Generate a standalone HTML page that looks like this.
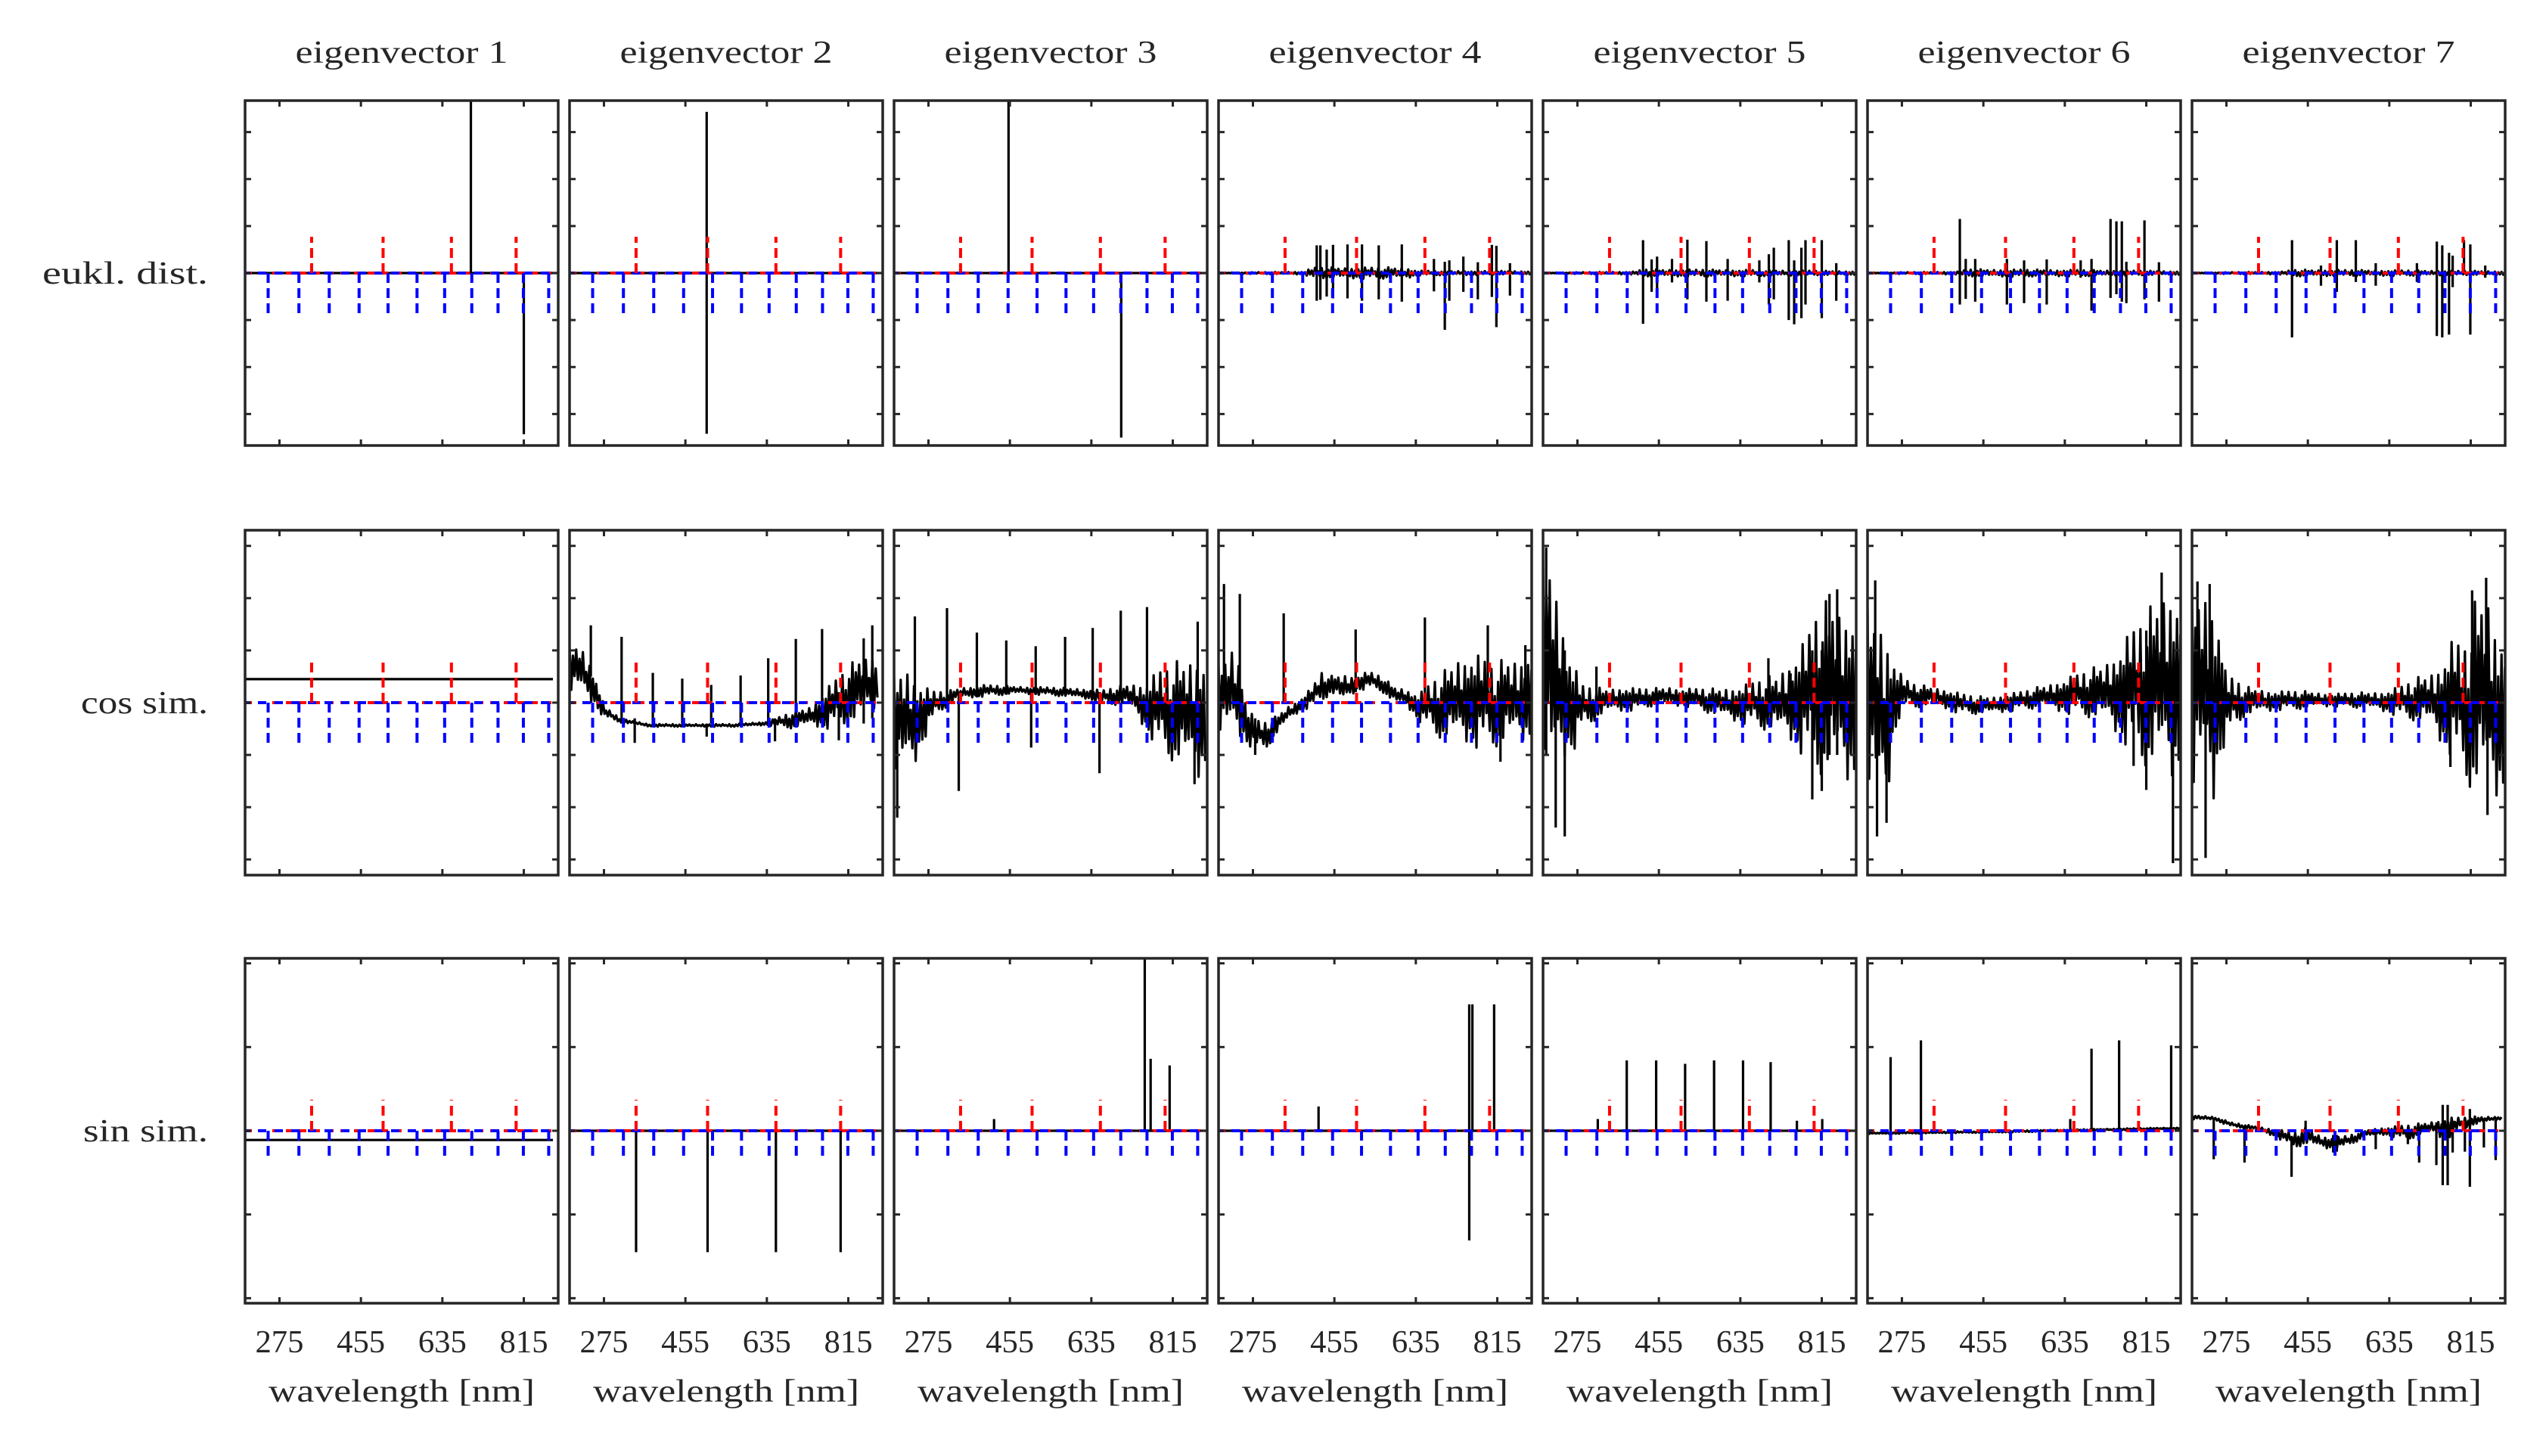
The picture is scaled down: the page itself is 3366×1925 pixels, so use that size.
<!DOCTYPE html>
<html><head><meta charset="utf-8"><title>eigenvector similarity panels</title>
<style>html,body{margin:0;padding:0;background:#fff;}svg{display:block;}text{font-family:"Liberation Serif",serif;fill:#262626;}</style>
</head><body>
<svg id="fig" xmlns="http://www.w3.org/2000/svg" width="3366" height="1925" viewBox="0 0 3366 1925"></svg>
<script>
// ---------- shared data ----------
const titles = ["eigenvector 1","eigenvector 2","eigenvector 3","eigenvector 4","eigenvector 5","eigenvector 6","eigenvector 7"];
const rowLabels = ["eukl. dist.","cos sim.","sin sim."];
const xTickValues = [275,455,635,815];
const xTickLabels = ["275","455","635","815"];
const yTicksRow1 = [-3,-2,-1,0,1,2,3];
const yTicksRow2 = [-3,-2,-1,0,1,2,3];
const yTicksRow3 = [-2,-1,0,1,2];
const redMarkerWl = [346,504,655,798];
const blueMarkerWl = [250,318,385,451,515,579,640,700,758,814,870];
const redMarkerLen = [0.77,0.8,0.37];
const blueMarkerLen = [0.87,0.8,0.35];
const xDomain = [199,891];
const yHalfRange = [3.67,3.3,2.06];

// ---------- row 1 : eukl. dist. ----------
const r1p1EnvWl=[199,891], r1p1EnvHi=[0,0], r1p1EnvLo=[0,0];
const r1p1SpkWl=[698,815], r1p1SpkTop=[3.67,0], r1p1SpkBot=[0,-3.43];
const r1p2EnvWl=[199,891], r1p2EnvHi=[0,0], r1p2EnvLo=[0,0];
const r1p2SpkWl=[502], r1p2SpkTop=[3.43], r1p2SpkBot=[-3.42];
const r1p3EnvWl=[199,891], r1p3EnvHi=[0,0], r1p3EnvLo=[0,0];
const r1p3SpkWl=[452,701], r1p3SpkTop=[3.67,0], r1p3SpkBot=[0,-3.5];
const r1p4EnvWl=[199,300,390,405,615,640,891], r1p4EnvHi=[0.01,0.02,0.03,0.12,0.12,0.05,0.04], r1p4EnvLo=[-0.01,-0.02,-0.03,-0.12,-0.12,-0.05,-0.03];
const r1p4SpkWl=[416,424,438,452,484,516,553,604,675,699,709,740,772,803,813,843];
const r1p4SpkTop=[0.59,0.59,0.5,0.6,0.61,0.61,0.59,0.61,0.3,0.24,0.27,0.35,0.23,0.6,0.58,0.21];
const r1p4SpkBot=[-0.59,-0.57,-0.5,-0.54,-0.54,-0.59,-0.56,-0.61,-0.39,-1.21,-0.59,-0.4,-0.56,-0.51,-1.15,-0.48];
const r1p5EnvWl=[199,300,400,420,620,891], r1p5EnvHi=[0.01,0.02,0.03,0.08,0.07,0.04], r1p5EnvLo=[-0.01,-0.02,-0.03,-0.08,-0.07,-0.04];
const r1p5SpkWl=[420,439,451,484,518,560,607,677,698,709,742,754,770,779,815,847];
const r1p5SpkTop=[0.7,0.29,0.35,0.3,0.71,0.68,0.3,0.27,0.4,0.54,0.7,0.27,0.54,0.7,0.7,0.21];
const r1p5SpkBot=[-1.08,-0.4,-0.4,-0.2,-0.56,-0.61,-0.59,-0.2,-0.67,-0.56,-1.0,-1.09,-0.96,-0.67,-0.96,-0.59];
const r1p6EnvWl=[199,300,400,420,620,891], r1p6EnvHi=[0.01,0.02,0.03,0.08,0.07,0.04], r1p6EnvLo=[-0.01,-0.02,-0.03,-0.08,-0.07,-0.04];
const r1p6SpkWl=[403,416,437,507,545,595,670,694,736,749,761,771,811,843];
const r1p6SpkTop=[1.15,0.3,0.3,0.3,0.27,0.29,0.27,0.3,1.15,1.1,1.1,0.24,1.12,0.23];
const r1p6SpkBot=[-0.67,-0.55,-0.61,-0.67,-0.64,-0.67,-0.1,-0.8,-0.53,-0.45,-0.61,-0.64,-0.56,-0.61];
const r1p7EnvWl=[199,300,400,420,620,891], r1p7EnvHi=[0.01,0.02,0.03,0.07,0.06,0.04], r1p7EnvLo=[-0.01,-0.02,-0.03,-0.07,-0.06,-0.04];
const r1p7SpkWl=[420,484,519,561,605,696,740,752,767,775,800,814,847];
const r1p7SpkTop=[0.7,0.16,0.7,0.7,0.21,0.21,0.67,0.59,0.43,0.37,0.7,0.61,0.16];
const r1p7SpkBot=[-1.37,-0.27,-0.4,-0.19,-0.27,-0.19,-1.34,-1.37,-1.31,-0.3,0,-1.31,-0.1];

// ---------- row 2 : cos sim. ----------
const r2p1EnvWl=[199,880], r2p1EnvHi=[0.45,0.45], r2p1EnvLo=[0.45,0.45];
const r2p1SpkWl=[], r2p1SpkTop=[], r2p1SpkBot=[];
const r2p2EnvWl=[199,220,248,276,313,377,452,563,636,692,729,766,803,840,882];
const r2p2EnvHi=[1.04,1.18,0.75,-0.07,-0.31,-0.41,-0.41,-0.41,-0.36,-0.17,-0.07,0.27,0.6,0.9,1.0];
const r2p2EnvLo=[0.12,0.17,-0.02,-0.29,-0.38,-0.46,-0.46,-0.46,-0.43,-0.5,-0.46,-0.5,-0.46,-0.41,-0.07];
const r2p2SpkWl=[246,314,343,383,448,502,512,577,638,653,699,757,794,849,868];
const r2p2SpkTop=[1.48,1.26,-0.3,0.57,0.46,-0.4,0.34,0.52,0.85,-0.3,1.22,1.41,0.2,1.23,1.48];
const r2p2SpkBot=[0.5,-0.35,-0.77,-0.4,-0.4,-0.65,-0.4,-0.4,-0.4,-0.74,-0.3,-0.3,-0.72,-0.4,-0.3];
const r2p3EnvWl=[199,220,243,266,289,317,345,400,475,549,622,660,715,752,789,826,872,888];
const r2p3EnvHi=[0.5,0.8,0.6,0.31,0.22,0.22,0.29,0.34,0.31,0.29,0.27,0.24,0.36,0.41,0.65,0.8,1.0,0.9];
const r2p3EnvLo=[-1.52,-1.47,-1.28,-0.7,-0.27,-0.07,0.07,0.12,0.17,0.14,0.07,-0.02,-0.07,-0.5,-0.94,-1.23,-1.52,-1.3];
const r2p3SpkWl=[245,316,382,447,512,577,638,700,758,870,206,342,502,653,863];
const r2p3SpkTop=[1.65,1.81,1.34,1.19,1.08,1.26,1.43,1.76,1.83,1.55,0,0.2,0.2,0.2,0];
const r2p3SpkBot=[0,0.1,0.1,0.15,0.15,0.15,0.1,0.05,-0.2,-0.5,-2.2,-1.69,-0.86,-1.35,-1.56];
const r2p4EnvWl=[199,227,247,261,282,303,324,351,379,407,427,448,476,503,531,559,587,614,642,670,697,725,753,780,808,836,863,891];
const r2p4EnvHi=[0.7,1.13,0.9,-0.07,-0.32,-0.36,-0.27,-0.07,0.07,0.31,0.6,0.51,0.56,0.51,0.6,0.51,0.31,0.27,0.17,0.41,0.6,0.9,1.0,0.9,0.7,0.9,0.9,1.09];
const r2p4EnvLo=[-0.7,-0.65,-0.7,-0.8,-0.9,-0.9,-0.65,-0.36,-0.17,-0.07,0.02,0.17,-0.02,0.22,0.27,0.22,-0.02,-0.07,-0.36,-0.56,-0.75,-0.85,-0.8,-0.9,-0.85,-0.9,-0.8,-0.75];
const r2p4SpkWl=[211,246,343,502,655,794,877,280,822];
const r2p4SpkTop=[2.27,2.08,1.71,1.4,1.63,1.48,1.1,-0.3,0];
const r2p4SpkBot=[0,0,0,0.2,0,0,0,-1.0,-1.13];
const r2p5EnvWl=[199,213,227,241,254,268,282,303,337,372,407,441,476,510,545,580,614,649,683,718,753,780,808,836,863,891];
const r2p5EnvHi=[2.97,2.97,2.34,1.76,1.13,0.75,0.36,0.31,0.27,0.31,0.27,0.27,0.31,0.27,0.27,0.27,0.31,0.36,0.46,0.56,0.94,1.23,1.86,2.0,1.91,1.86];
const r2p5EnvLo=[-1.28,-1.86,-1.67,-1.19,-1.04,-0.9,-0.56,-0.41,-0.22,-0.17,-0.14,-0.07,-0.07,-0.07,-0.12,-0.27,-0.36,-0.41,-0.51,-0.65,-0.8,-1.09,-1.38,-1.57,-1.62,-1.57];
const r2p5SpkWl=[206,227,247,317,697,746,794,815,832,849];
const r2p5SpkTop=[2.97,1.0,1.0,0.69,0.85,0.56,1.0,1.0,2.08,2.17];
const r2p5SpkBot=[-1,-2.39,-2.56,-0.2,-0.2,-0.3,-1.85,-1.69,-1,-1];
const r2p6EnvWl=[199,213,227,241,254,268,282,303,337,372,407,441,476,510,545,580,614,649,683,718,753,780,808,836,863,891];
const r2p6EnvHi=[1.81,1.81,1.65,1.52,1.04,0.61,0.46,0.36,0.31,0.27,0.17,0.12,0.12,0.17,0.22,0.31,0.41,0.51,0.61,0.75,1.04,1.38,1.62,2.0,2.37,2.2];
const r2p6EnvLo=[-1.86,-2.1,-2.15,-2.2,-0.9,-0.31,-0.12,-0.1,-0.07,-0.12,-0.22,-0.22,-0.22,-0.17,-0.12,-0.12,-0.17,-0.22,-0.27,-0.41,-0.65,-0.9,-1.19,-1.47,-1.62,-1.38];
const r2p6SpkWl=[216,220,241,787,815,849,874];
const r2p6SpkTop=[2.34,0,0,0,1.38,2.49,0];
const r2p6SpkBot=[0,-2.56,-2.3,-1.21,-1.67,0,-3.07];
const r2p7EnvWl=[199,225,247,263,274,291,314,347,386,453,508,564,620,659,692,726,748,775,804,820,848,876,891];
const r2p7EnvHi=[2.29,2.27,2.15,1.52,0.5,0.5,0.31,0.27,0.22,0.22,0.17,0.19,0.22,0.31,0.46,0.6,0.8,1.23,1.13,1.86,2.34,1.52,1.5];
const r2p7EnvLo=[-2.15,-1.52,-2.0,-1.04,-0.7,-0.55,-0.27,-0.22,-0.14,-0.12,-0.07,-0.1,-0.17,-0.27,-0.36,-0.51,-0.8,-1.04,-1.52,-1.76,-2.0,-1.9,-1.8];
const r2p7SpkWl=[211,229,238,770,818,849,852];
const r2p7SpkTop=[2.32,0,2.27,0,2.15,2.39,0];
const r2p7SpkBot=[0,-2.97,0,-1.23,0,0,-2.15];

// ---------- row 3 : sin sim. ----------
const r3p1EnvWl=[199,880], r3p1EnvHi=[-0.11,-0.11], r3p1EnvLo=[-0.11,-0.11];
const r3p1SpkWl=[], r3p1SpkTop=[], r3p1SpkBot=[];
const r3p2EnvWl=[199,891], r3p2EnvHi=[0,0], r3p2EnvLo=[0,0];
const r3p2SpkWl=[346,504,655,798], r3p2SpkTop=[0,0,0,0], r3p2SpkBot=[-1.45,-1.45,-1.45,-1.45];
const r3p3EnvWl=[199,891], r3p3EnvHi=[0,0], r3p3EnvLo=[0,0];
const r3p3SpkWl=[420,753,766,808], r3p3SpkTop=[0.14,2.08,0.86,0.78], r3p3SpkBot=[0,0,0,0];
const r3p4EnvWl=[199,891], r3p4EnvHi=[0,0], r3p4EnvLo=[0,0];
const r3p4SpkWl=[420,753,760,808], r3p4SpkTop=[0.29,1.51,1.51,1.51], r3p4SpkBot=[0,-1.31,0,0];
const r3p5EnvWl=[199,891], r3p5EnvHi=[0,0], r3p5EnvLo=[0,0];
const r3p5SpkWl=[320,384,449,513,577,641,702,760,816];
const r3p5SpkTop=[0.14,0.84,0.84,0.8,0.84,0.84,0.82,0.12,0.14];
const r3p5SpkBot=[0,0,0,0,0,0,0,0,0];
const r3p6EnvWl=[199,500,891], r3p6EnvHi=[-0.02,0,0.04], r3p6EnvLo=[-0.04,-0.02,0.02];
const r3p6SpkWl=[250,317,647,694,755,870], r3p6SpkTop=[0.88,1.08,0.14,0.98,1.08,1.02], r3p6SpkBot=[0,0,0,0,0,0];
const r3p7EnvWl=[199,247,286,342,386,425,453,481,514,548,581,620,676,720,759,793,826,870,885];
const r3p7EnvHi=[0.19,0.17,0.1,0.05,0.02,-0.02,0.04,-0.05,-0.08,-0.05,0.01,0.04,0.07,0.1,0.16,0.16,0.17,0.17,0.17];
const r3p7EnvLo=[0.13,0.13,0.05,0.01,-0.08,-0.2,-0.17,-0.2,-0.23,-0.17,-0.08,-0.05,-0.11,-0.02,-0.11,0.01,0.07,0.13,0.13];
const r3p7SpkWl=[247,315,419,450,511,519,605,676,701,739,753,764,775,802,813,844,870];
const r3p7SpkTop=[0.13,0.05,-0.1,0.12,-0.05,-0.05,0,0,0.05,0.1,0.31,0.31,0.12,0.12,0.26,0.15,0.13];
const r3p7SpkBot=[-0.34,-0.38,-0.55,-0.1,-0.26,-0.25,-0.22,-0.16,-0.38,-0.41,-0.65,-0.65,-0.26,-0.25,-0.67,-0.2,-0.35];

const panelSeries = [
 [[r1p1EnvWl,r1p1EnvHi,r1p1EnvLo,r1p1SpkWl,r1p1SpkTop,r1p1SpkBot],[r1p2EnvWl,r1p2EnvHi,r1p2EnvLo,r1p2SpkWl,r1p2SpkTop,r1p2SpkBot],[r1p3EnvWl,r1p3EnvHi,r1p3EnvLo,r1p3SpkWl,r1p3SpkTop,r1p3SpkBot],[r1p4EnvWl,r1p4EnvHi,r1p4EnvLo,r1p4SpkWl,r1p4SpkTop,r1p4SpkBot],[r1p5EnvWl,r1p5EnvHi,r1p5EnvLo,r1p5SpkWl,r1p5SpkTop,r1p5SpkBot],[r1p6EnvWl,r1p6EnvHi,r1p6EnvLo,r1p6SpkWl,r1p6SpkTop,r1p6SpkBot],[r1p7EnvWl,r1p7EnvHi,r1p7EnvLo,r1p7SpkWl,r1p7SpkTop,r1p7SpkBot]],
 [[r2p1EnvWl,r2p1EnvHi,r2p1EnvLo,r2p1SpkWl,r2p1SpkTop,r2p1SpkBot],[r2p2EnvWl,r2p2EnvHi,r2p2EnvLo,r2p2SpkWl,r2p2SpkTop,r2p2SpkBot],[r2p3EnvWl,r2p3EnvHi,r2p3EnvLo,r2p3SpkWl,r2p3SpkTop,r2p3SpkBot],[r2p4EnvWl,r2p4EnvHi,r2p4EnvLo,r2p4SpkWl,r2p4SpkTop,r2p4SpkBot],[r2p5EnvWl,r2p5EnvHi,r2p5EnvLo,r2p5SpkWl,r2p5SpkTop,r2p5SpkBot],[r2p6EnvWl,r2p6EnvHi,r2p6EnvLo,r2p6SpkWl,r2p6SpkTop,r2p6SpkBot],[r2p7EnvWl,r2p7EnvHi,r2p7EnvLo,r2p7SpkWl,r2p7SpkTop,r2p7SpkBot]],
 [[r3p1EnvWl,r3p1EnvHi,r3p1EnvLo,r3p1SpkWl,r3p1SpkTop,r3p1SpkBot],[r3p2EnvWl,r3p2EnvHi,r3p2EnvLo,r3p2SpkWl,r3p2SpkTop,r3p2SpkBot],[r3p3EnvWl,r3p3EnvHi,r3p3EnvLo,r3p3SpkWl,r3p3SpkTop,r3p3SpkBot],[r3p4EnvWl,r3p4EnvHi,r3p4EnvLo,r3p4SpkWl,r3p4SpkTop,r3p4SpkBot],[r3p5EnvWl,r3p5EnvHi,r3p5EnvLo,r3p5SpkWl,r3p5SpkTop,r3p5SpkBot],[r3p6EnvWl,r3p6EnvHi,r3p6EnvLo,r3p6SpkWl,r3p6SpkTop,r3p6SpkBot],[r3p7EnvWl,r3p7EnvHi,r3p7EnvLo,r3p7SpkWl,r3p7SpkTop,r3p7SpkBot]]
];
const yTicksByRow = [yTicksRow1,yTicksRow2,yTicksRow3];

// ---------- layout ----------
const LEFT0=324, PITCH=429, PW=414, PH=456;
const TOPS=[133,701,1267];
const NS="http://www.w3.org/2000/svg";
const svg=document.getElementById('fig');
// fixed stroke texture for drawing a dense trace inside the envelope (rendering only)
const TEXTURE=[1,0.35,0.7,0.5,0.92,0.25,0.6,0.82,0.4,0.97,0.3,0.55,0.75,0.2,0.65,0.45,0.88];
function mk(tag, attrs, parent){const e=document.createElementNS(NS,tag);for(const k in attrs)e.setAttribute(k,attrs[k]);(parent||svg).appendChild(e);return e;}
function xs(col,wl){return LEFT0+col*PITCH+(wl-xDomain[0])/(xDomain[1]-xDomain[0])*PW;}
function ys(row,v){return TOPS[row]+PH/2-v*(PH/2)/yHalfRange[row];}
function interp(xa,ya,x){if(x<=xa[0])return ya[0];for(let i=1;i<xa.length;i++){if(x<=xa[i]){const t=(x-xa[i-1])/(xa[i]-xa[i-1]);return ya[i-1]+t*(ya[i]-ya[i-1]);}}return ya[ya.length-1];}

const defs=mk('defs',{});
const INK="#262626";

titles.forEach((t,c)=>{
  const el=mk('text',{x:LEFT0+c*PITCH+PW/2,y:83,'text-anchor':'middle','font-size':42,textLength:281,lengthAdjust:'spacingAndGlyphs'});
  
  
  el.textContent=t;
});
const rowLabelW=[219,168,165];
rowLabels.forEach((t,r)=>{
  const el=mk('text',{x:275,y:TOPS[r]+PH/2+14,'text-anchor':'end','font-size':42,textLength:rowLabelW[r],lengthAdjust:'spacingAndGlyphs'});
  
  
  el.textContent=t;
});

for(let r=0;r<3;r++){
  for(let c=0;c<7;c++){
    const px=LEFT0+c*PITCH, py=TOPS[r];
    const g=mk('g',{});
    
    
    const cp=mk('clipPath',{id:'cp'+r+'_'+c},defs);
    mk('rect',{x:px,y:py,width:PW,height:PH},cp);
    const data=mk('g',{'clip-path':'url(#cp'+r+'_'+c+')'},g);
    
    
    const [ew,eh,el,sw,st,sb]=panelSeries[r][c];
    const x0=xs(c,ew[0]), x1=xs(c,ew[ew.length-1]);
    let pts=[]; let k=0;
    for(let X=x0;X<=x1+0.01;X+=2.2){
      const wl=xDomain[0]+(X-LEFT0-c*PITCH)/PW*(xDomain[1]-xDomain[0]);
      const hi=interp(ew,eh,wl), lo=interp(ew,el,wl), mid=(hi+lo)/2;
      let v;
      if(k%2===0) v=mid+TEXTURE[(k*3)%TEXTURE.length]*(hi-mid);
      else v=mid-TEXTURE[(k*5+7)%TEXTURE.length]*(mid-lo);
      pts.push(X.toFixed(1)+','+ys(r,v).toFixed(1)); k++;
    }
    const line=mk('polyline',{points:pts.join(' '),fill:'none',stroke:'#000','stroke-width':3.2,'stroke-linejoin':'round'},data);
    
    
    for(let i=0;i<sw.length;i++){
      const s=mk('line',{x1:xs(c,sw[i]),x2:xs(c,sw[i]),y1:ys(r,st[i]),y2:ys(r,sb[i]),stroke:'#000','stroke-width':3.2},data);
      
      
    }
    const z=ys(r,0);
    const zr=mk('line',{x1:px,x2:px+PW,y1:z,y2:z,stroke:'#ff0000','stroke-width':4,'stroke-dasharray':'9 9','stroke-dashoffset':0},data);
    
    
    const zb=mk('line',{x1:px,x2:px+PW,y1:z,y2:z,stroke:'#0000ff','stroke-width':4,'stroke-dasharray':'11 11','stroke-dashoffset':5},data);
    
    
    redMarkerWl.forEach(w=>{
      const m=mk('line',{x1:xs(c,w),x2:xs(c,w),y1:z,y2:ys(r,redMarkerLen[r]),stroke:'#ff0000','stroke-width':4,'stroke-dasharray':'13 7'},data);
      
      
    });
    blueMarkerWl.forEach(w=>{
      const m=mk('line',{x1:xs(c,w),x2:xs(c,w),y1:z,y2:ys(r,-blueMarkerLen[r]),stroke:'#0000ff','stroke-width':4,'stroke-dasharray':'13 7'},data);
      
      
    });
    xTickValues.forEach(t=>{
      const X=xs(c,t);
      const a=mk('line',{x1:X,x2:X,y1:py,y2:py+8,stroke:INK,'stroke-width':3},g);
      
      
      const b=mk('line',{x1:X,x2:X,y1:py+PH,y2:py+PH-8,stroke:INK,'stroke-width':3},g);
      
      
    });
    yTicksByRow[r].forEach(t=>{
      const Y=ys(r,t);
      const a=mk('line',{x1:px,x2:px+8,y1:Y,y2:Y,stroke:INK,'stroke-width':3},g);
      
      
      const b=mk('line',{x1:px+PW,x2:px+PW-8,y1:Y,y2:Y,stroke:INK,'stroke-width':3},g);
      
      
    });
    const fr=mk('rect',{x:px,y:py,width:PW,height:PH,fill:'none',stroke:INK,'stroke-width':3.5},g);
    
    
    if(r===2){
      xTickValues.forEach((t,i)=>{
        const tl=mk('text',{x:xs(c,t),y:1788,'text-anchor':'middle','font-size':42,textLength:64,lengthAdjust:'spacingAndGlyphs'},g);
        
        
        tl.textContent=xTickLabels[i];
      });
      const xl=mk('text',{x:px+PW/2,y:1853,'text-anchor':'middle','font-size':42,textLength:352,lengthAdjust:'spacingAndGlyphs'},g);
      
      
      xl.textContent='wavelength [nm]';
    }
  }
}
</script>
</body></html>
